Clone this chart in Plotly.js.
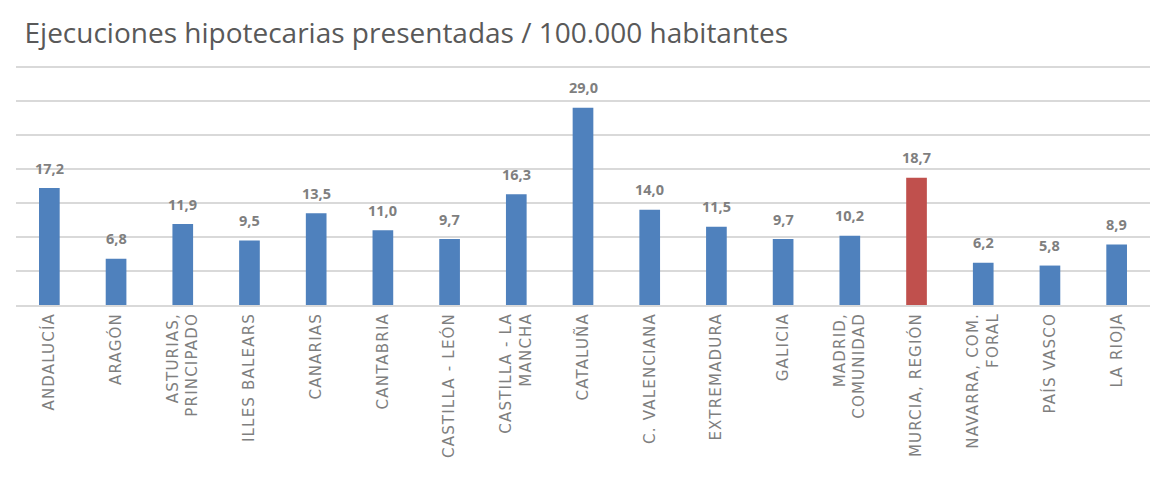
<!DOCTYPE html>
<html>
<head>
<meta charset="utf-8">
<script src="https://cdn.plot.ly/plotly-3.0.1.min.js"></script>
<style>html,body{margin:0;padding:0;background:#fff;}#chart{width:1167px;height:479px;}
.xtick text{letter-spacing:1.2px;}</style>
</head>
<body>
<div id="chart"></div>
<script>
const categories = ["ANDALUCÍA","ARAGÓN","ASTURIAS,<br>PRINCIPADO","ILLES BALEARS","CANARIAS","CANTABRIA","CASTILLA - LEÓN","CASTILLA - LA<br>MANCHA","CATALUÑA","C. VALENCIANA","EXTREMADURA","GALICIA","MADRID,<br>COMUNIDAD","MURCIA, REGIÓN","NAVARRA, COM.<br>FORAL","PAÍS VASCO","LA RIOJA"];
const values = [17.2,6.8,11.9,9.5,13.5,11.0,9.7,16.3,29.0,14.0,11.5,9.7,10.2,18.7,6.2,5.8,8.9];
const highlight = "MURCIA, REGIÓN";
const colors = categories.map(c => c === highlight ? "#C0504D" : "#4F81BD");

const labels = categories.map((c, i) => ({
  x: c, y: values[i], xref: "x", yref: "y",
  text: values[i].toFixed(1).replace(".", ","),
  showarrow: false, yanchor: "middle", yshift: 20,
  font: {family: "Open Sans", size: 14.5, color: "#7F7F7F", weight: "bold"}
}));

Plotly.newPlot("chart", [{
  type: "bar",
  x: categories,
  y: values,
  marker: {color: colors},
  hoverinfo: "none"
}], {
  width: 1167, height: 479,
  paper_bgcolor: "#fff", plot_bgcolor: "#fff",
  margin: {l: 16, r: 17, t: 66, b: 174},
  bargap: 0.69,
  annotations: labels,
  title: {text: "Ejecuciones hipotecarias presentadas / 100.000 habitantes", x: 0.021, xanchor: "left", y: 0.93, yanchor: "middle",
          font: {family: "Open Sans", size: 28, color: "#595959"}},
  xaxis: {tickangle: -90, tickfont: {family: "DejaVu Sans", size: 15, color: "#7F7F7F"}, showline: true, linecolor: "#D9D9D9", linewidth: 2, ticks: "", fixedrange: true},
  yaxis: {range: [0, 35.15], tickvals: [5,10,15,20,25,30,35], showticklabels: false, gridcolor: "#D9D9D9", gridwidth: 2, zeroline: false, fixedrange: true},
  showlegend: false
}, {displayModeBar: false, staticPlot: true});
</script>
</body>
</html>
